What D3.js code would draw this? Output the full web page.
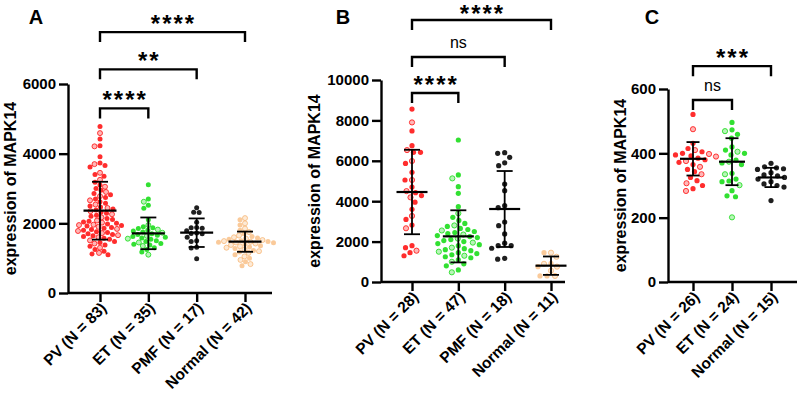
<!DOCTYPE html>
<html>
<head>
<meta charset="utf-8">
<script src="https://cdn.jsdelivr.net/npm/d3@7"></script>
<style>
  body { margin: 0; background: #fff; }
  svg { display: block; font-family: "Liberation Sans", Arial, sans-serif; }
</style>
</head>
<body>
<div id="chart"></div>
<script>
// ---- data ----
const catsA = ["PV (N = 83)", "ET (N = 35)", "PMF (N = 17)", "Normal (N = 42)"];
const catsB = ["PV (N = 28)", "ET (N = 47)", "PMF (N = 18)", "Normal (N = 11)"];
const catsC = ["PV (N = 26)", "ET (N = 24)", "Normal (N = 15)"];

const pvA = [4780, 4590, 4420, 4230, 4210, 3910, 3730, 3700, 3660, 3620,
  3450, 3400, 3350, 3250, 3180, 3100, 3050, 3000, 2950, 2900,
  2860, 2820, 2780, 2740, 2700, 2660, 2620, 2580, 2540, 2500,
  2470, 2440, 2410, 2380, 2350, 2320, 2290, 2260, 2230, 2200,
  2170, 2140, 2110, 2080, 2060, 2040, 2020, 2000, 1980, 1960,
  1940, 1920, 1900, 1880, 1860, 1840, 1820, 1800, 1780, 1760,
  1740, 1720, 1700, 1680, 1660, 1640, 1620, 1600, 1570, 1540,
  1510, 1480, 1450, 1420, 1380, 1340, 1300, 1250, 1200, 1150,
  1120, 1100, 1950];
const etA = [3110, 2700, 2620, 2520, 2430, 2100, 1950, 1900, 1870, 1850,
  1820, 1800, 1780, 1750, 1730, 1700, 1680, 1660, 1640, 1620,
  1600, 1580, 1560, 1540, 1500, 1480, 1450, 1420, 1400, 1380,
  1350, 1300, 1250, 1180, 1100];
const pmfA = [2450, 2320, 2310, 2030, 1880, 1870, 1860, 1790, 1720, 1710,
  1700, 1600, 1500, 1480, 1310, 1290, 980];
const normalA = [2150, 2100, 2000, 1950, 1850, 1800, 1750, 1700, 1650, 1620,
  1600, 1580, 1560, 1540, 1520, 1500, 1490, 1480, 1470, 1460,
  1450, 1440, 1420, 1400, 1380, 1360, 1340, 1320, 1300, 1280,
  1250, 1220, 1200, 1180, 1150, 1100, 1050, 1000, 950, 900,
  830, 780];
const meanA = [2363, 1713, 1731, 1473];
const sdA = [830, 455, 410, 290];

const pvB = [8560, 7900, 7480, 6750, 6530, 6420, 6420, 5990, 5870, 5430,
  5050, 5050, 4700, 4500, 4420, 4280, 4190, 3950, 3600, 3270,
  3100, 2820, 2660, 1800, 1700, 1550, 1450, 1300];
const etB = [7030, 5300, 5130, 4720, 4390, 3730, 3400, 3200,
  3050, 2900, 2800, 2750, 2650, 2600, 2550, 2500, 2450, 2400,
  2350, 2300, 2250, 2200, 2150, 2100, 2050, 2000, 1950, 1900,
  1850, 1800, 1700, 1650, 1600, 1550, 1500, 1450, 1400, 1350,
  1300, 1250, 1200, 1100, 1000, 900, 800, 600, 480];
const pmfB = [6370, 6400, 6170, 5900, 5760, 4850, 4520, 3780, 3680, 2970,
  2790, 2380, 1920, 1800, 1670, 1800, 1130, 1170];
const normalB = [1450, 1450, 1250, 920, 760, 760, 560, 300, 300, 300, 900];
const meanB = [4455, 2260, 3614, 808];
const sdB = [2090, 1290, 1880, 455];

const pvC = [521, 475, 431, 415, 410, 405, 400, 398, 395, 392,
  390, 385, 380, 376, 372, 365, 358, 350, 343, 335,
  325, 315, 307, 300, 290, 283];
const etC = [496, 473, 469, 459, 447, 410, 405, 400, 395, 379,
  374, 370, 365, 338, 335, 320, 314, 312, 301, 284,
  268, 265, 201, 420];
const normalC = [369, 358, 355, 352, 350, 340, 333, 330, 325, 320,
  312, 305, 300, 295, 253];
const meanC = [383, 374, 325];
const sdC = [52, 73, 30];

const ticksA = [0, 2000, 4000, 6000];
const ticksB = [0, 2000, 4000, 6000, 8000, 10000];
const ticksC = [0, 200, 400, 600];

// significance brackets: [from group, to group, label, height in data units]
const sigA = [[0, 1, "****", 5300], [0, 2, "**", 6420], [0, 3, "****", 7490]];
const sigB = [[0, 1, "****", 9360], [0, 2, "ns", 11140], [0, 3, "****", 12970]];
const sigC = [[0, 1, "ns", 566], [0, 2, "***", 671]];

const red = "#ff1010", green = "#16dc16", black = "#000000", peach = "#f8b878";

const panels = [
  { letter: "A", letterX: 36, cats: catsA, groups: [pvA, etA, pmfA, normalA],
    colors: [red, green, black, peach], mean: meanA, sd: sdA, ticks: ticksA, sig: sigA,
    yMax: 6000, axisX: 68, yTop: 84, yBot: 293, x0: 100, x1: 245, xEnd: 272,
    titleX: 16, r: 2.5, gap: 5.2, meanW: 16.5, capW: 8 },
  { letter: "B", letterX: 343, cats: catsB, groups: [pvB, etB, pmfB, normalB],
    colors: [red, green, black, peach], mean: meanB, sd: sdB, ticks: ticksB, sig: sigB,
    yMax: 10000, axisX: 381, yTop: 80, yBot: 282, x0: 412, x1: 551, xEnd: 565,
    titleX: 320, r: 2.6, gap: 6.6, meanW: 15.5, capW: 8 },
  { letter: "C", letterX: 652, cats: catsC, groups: [pvC, etC, normalC],
    colors: [red, green, black], mean: meanC, sd: sdC, ticks: ticksC, sig: sigC,
    yMax: 600, axisX: 668, yTop: 89, yBot: 282, x0: 693, x1: 771, xEnd: 797,
    titleX: 626, r: 2.6, gap: 7, meanW: 13, capW: 6.5 }
];

const width = 797, height = 396;

const svg = d3.select("#chart").append("svg")
  .attr("width", width)
  .attr("height", height);

svg.append("rect").attr("width", width).attr("height", height).attr("fill", "#fff");

// simple beeswarm: nearest free horizontal offset for each dot
function swarm(vals, y, cx, gap) {
  const pts = vals.map((v, i) => ({ v: v, i: i, y: y(v) }))
    .sort((a, b) => a.y - b.y);
  const placed = [];
  pts.forEach(p => {
    let off = 0;
    for (let k = 0; k < 200; k++) {
      const o = (k % 2 ? -1 : 1) * Math.ceil(k / 2) * 0.5;
      const ok = placed.every(q => (q.x - o) * (q.x - o) + (q.y - p.y) * (q.y - p.y) >= gap * gap);
      if (ok) { off = o; break; }
    }
    placed.push({ x: off, y: p.y });
    p.x = cx + off;
  });
  return pts;
}

function isHollow(color, i) {
  if (color === black) return false;
  if (color === red) return i % 3 === 1;
  if (color === green) return i % 4 === 2;
  return i % 2 === 0;
}

const font = "Liberation Sans, Arial, sans-serif";

panels.forEach(P => {
  const y = d3.scaleLinear().domain([0, P.yMax]).range([P.yBot, P.yTop]);
  const x = d3.scalePoint().domain(P.cats).range([P.x0, P.x1]);
  const g = svg.append("g");

  // y axis
  const yAxis = g.append("g")
    .attr("transform", "translate(" + P.axisX + ",0)")
    .call(d3.axisLeft(y).tickValues(P.ticks).tickFormat(d3.format("d"))
      .tickSize(9).tickPadding(3).tickSizeOuter(0));
  yAxis.selectAll("text")
    .attr("font-size", 15).attr("font-weight", "bold").attr("fill", "#000")
    .attr("font-family", font);

  // x axis
  const xAxis = g.append("g")
    .attr("transform", "translate(0," + P.yBot + ")")
    .call(d3.axisBottom(x).tickSize(9).tickSizeOuter(0));
  xAxis.select(".domain").attr("d", "M" + P.axisX + ",0H" + P.xEnd);
  xAxis.selectAll("text")
    .attr("font-size", 15.5).attr("font-weight", "bold").attr("fill", "#000")
    .attr("font-family", font)
    .attr("text-anchor", "end")
    .attr("dy", null)
    .attr("y", null)
    .attr("transform", "translate(7,16) rotate(-45)");

  g.selectAll(".domain, .tick line")
    .attr("stroke", "#000").attr("stroke-width", 2.4);

  // axis title
  g.append("text")
    .attr("transform", "translate(" + P.titleX + "," + ((P.yTop + P.yBot) / 2) + ") rotate(-90)")
    .attr("text-anchor", "middle")
    .attr("font-size", 16).attr("font-weight", "bold")
    .text("expression of MAPK14");

  // panel letter
  g.append("text")
    .attr("x", P.letterX).attr("y", 24)
    .attr("text-anchor", "middle")
    .attr("font-size", 20).attr("font-weight", "bold")
    .text(P.letter);

  // dots
  P.groups.forEach((vals, gi) => {
    const col = P.colors[gi];
    const pts = swarm(vals, y, x(P.cats[gi]), P.gap);
    g.append("g").selectAll("circle")
      .data(pts)
      .enter()
      .append("circle")
      .attr("cx", d => d.x)
      .attr("cy", d => d.y)
      .attr("r", P.r)
      .attr("fill", col)
      .attr("fill-opacity", d => isHollow(col, d.i) ? 0.3 : (col === peach ? 0.75 : 0.88))
      .attr("stroke", d => isHollow(col, d.i) ? col : "none")
      .attr("stroke-opacity", 0.8)
      .attr("stroke-width", 1);
  });

  // mean +- SD
  const stats = g.append("g").attr("stroke", "#000").attr("stroke-width", 1.8);
  P.mean.forEach((m, gi) => {
    const cx = x(P.cats[gi]);
    const hi = y(m + P.sd[gi]), lo = y(Math.max(0, m - P.sd[gi]));
    stats.append("line").attr("x1", cx).attr("x2", cx).attr("y1", hi).attr("y2", lo);
    stats.append("line").attr("x1", cx - P.capW).attr("x2", cx + P.capW).attr("y1", hi).attr("y2", hi);
    stats.append("line").attr("x1", cx - P.capW).attr("x2", cx + P.capW).attr("y1", lo).attr("y2", lo);
    stats.append("line").attr("x1", cx - P.meanW).attr("x2", cx + P.meanW)
      .attr("y1", y(m)).attr("y2", y(m)).attr("stroke-width", 2.2);
  });

  // significance brackets
  P.sig.forEach(s => {
    const xa = x(P.cats[s[0]]), xb = x(P.cats[s[1]]), yy = y(s[3]);
    g.append("path")
      .attr("d", "M" + xa + "," + (yy + 10) + "V" + yy + "H" + xb + "V" + (yy + 10))
      .attr("fill", "none").attr("stroke", "#000").attr("stroke-width", 2.4);
    const ns = s[2] === "ns";
    g.append("text")
      .attr("x", (xa + xb) / 2 + (ns ? 0 : 1))
      .attr("y", ns ? yy - 9 : Math.max(yy, 22))
      .attr("text-anchor", "middle")
      .attr("font-size", ns ? 16 : 24)
      .attr("font-weight", ns ? "normal" : "bold")
      .attr("letter-spacing", ns ? null : 2)
      .text(s[2]);
  });
});
</script>
</body>
</html>
